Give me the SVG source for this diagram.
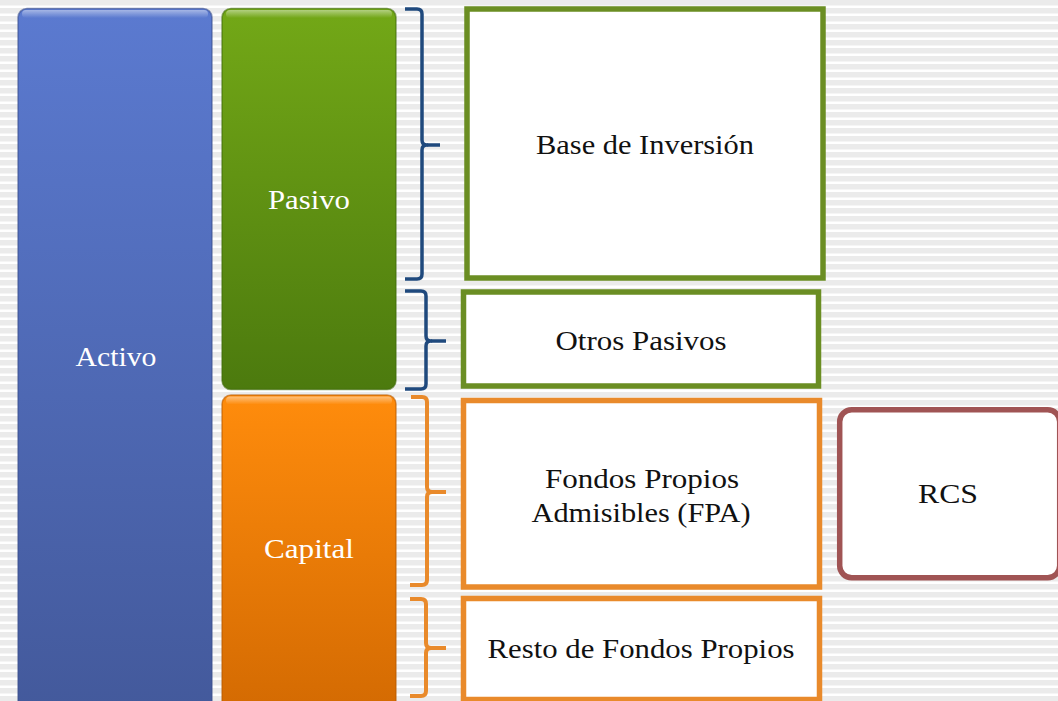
<svg xmlns="http://www.w3.org/2000/svg" width="1058" height="701" viewBox="0 0 1058 701">
<defs>
<pattern id="stripes" x="0" y="0" width="8" height="8" patternUnits="userSpaceOnUse">
<rect width="8" height="8" fill="#ffffff"/>
<rect y="0" width="8" height="5.5" fill="#ebebeb"/>
</pattern>
<linearGradient id="gBlue" x1="0" y1="0" x2="0" y2="1">
<stop offset="0" stop-color="#5b7ad0"/>
<stop offset="1" stop-color="#43599b"/>
</linearGradient>
<linearGradient id="gGreen" x1="0" y1="0" x2="0" y2="1">
<stop offset="0" stop-color="#73a817"/>
<stop offset="1" stop-color="#4c7a0e"/>
</linearGradient>
<linearGradient id="gOrange" x1="0" y1="0" x2="0" y2="1">
<stop offset="0" stop-color="#ff8c0c"/>
<stop offset="1" stop-color="#d36a02"/>
</linearGradient>
<linearGradient id="gloss" x1="0" y1="0" x2="0" y2="1">
<stop offset="0" stop-color="#ffffff" stop-opacity="0.45"/>
<stop offset="1" stop-color="#ffffff" stop-opacity="0"/>
</linearGradient>
</defs>
<style>
.lbl{font-family:"Liberation Serif","Times New Roman",serif;font-size:28px;text-anchor:middle}
.w{fill:#ffffff}
.k{fill:#111111}
.boxG{fill:#ffffff;stroke:#6b8e23;stroke-width:5.5}
.boxO{fill:#ffffff;stroke:#e98a2b;stroke-width:5.5}
.boxR{fill:#ffffff;stroke:#a05454;stroke-width:5.5}
.brN{fill:none;stroke:#1f497d;stroke-width:3.5;stroke-linejoin:round;stroke-linecap:butt}
.brO{fill:none;stroke:#e98a2b;stroke-width:4;stroke-linejoin:round;stroke-linecap:butt}
.edge{stroke-opacity:0.6;stroke-width:1.5}
</style>
<rect width="1058" height="701" fill="url(#stripes)"/>

<g id="activo">
<rect class="edge" x="18" y="8.5" width="194" height="710" rx="9" fill="url(#gBlue)" stroke="#3a4f8c"/>
<rect x="22" y="10" width="186" height="8" rx="4" fill="url(#gloss)"/>
<text class="lbl w" x="116" y="366" textLength="81" lengthAdjust="spacingAndGlyphs">Activo</text>
</g>

<g id="pasivo">
<rect class="edge" x="222" y="8.5" width="174" height="381" rx="9" fill="url(#gGreen)" stroke="#3f6a0a"/>
<rect x="226" y="10" width="166" height="8" rx="4" fill="url(#gloss)"/>
<text class="lbl w" x="309" y="209" textLength="82" lengthAdjust="spacingAndGlyphs">Pasivo</text>
</g>

<g id="capital">
<rect class="edge" x="222" y="395" width="174" height="320" rx="9" fill="url(#gOrange)" stroke="#b85a00"/>
<rect x="226" y="396.5" width="166" height="8" rx="4" fill="url(#gloss)"/>
<text class="lbl w" x="309" y="558" textLength="90" lengthAdjust="spacingAndGlyphs">Capital</text>
</g>

<g id="connectors">
<path class="brN" d="M405,9 H417 Q422,9 422,14 V140 Q422,145 427,145 Q422,145 422,150 V274 Q422,279 417,279 H405"/>
<path class="brN" d="M427,145 H440"/>
<path class="brN" d="M405,291 H421 Q426,291 426,296 V336 Q426,341 431,341 Q426,341 426,346 V384 Q426,389 421,389 H405"/>
<path class="brN" d="M431,341 H446"/>
<path class="brO" d="M411,397 H422 Q427,397 427,402 V487 Q427,492 432,492 Q427,492 427,497 V580 Q427,585 422,585 H410"/>
<path class="brO" d="M432,492 H446"/>
<path class="brO" d="M410,599 H421 Q426,599 426,604 V643 Q426,648 431,648 Q426,648 426,653 V691 Q426,696 421,696 H410"/>
<path class="brO" d="M431,648 H446"/>
</g>

<g id="base-inversion">
<rect class="boxG" x="467" y="9" width="356" height="269"/>
<text class="lbl k" x="645" y="154" textLength="218" lengthAdjust="spacingAndGlyphs">Base de Inversión</text>
</g>

<g id="otros-pasivos">
<rect class="boxG" x="463.5" y="292" width="355" height="94"/>
<text class="lbl k" x="641" y="350" textLength="171" lengthAdjust="spacingAndGlyphs">Otros Pasivos</text>
</g>

<g id="fpa">
<rect class="boxO" x="463.5" y="400.5" width="356" height="186.5"/>
<text class="lbl k" x="642" y="488" textLength="194" lengthAdjust="spacingAndGlyphs">Fondos Propios</text>
<text class="lbl k" x="641" y="522" textLength="219" lengthAdjust="spacingAndGlyphs">Admisibles (FPA)</text>
</g>

<g id="resto">
<rect class="boxO" x="463.5" y="598.5" width="356" height="101"/>
<text class="lbl k" x="641" y="658" textLength="307" lengthAdjust="spacingAndGlyphs">Resto de Fondos Propios</text>
</g>

<g id="rcs">
<rect class="boxR" x="839.7" y="409.7" width="220" height="168" rx="12"/>
<text class="lbl k" x="948" y="503" textLength="60" lengthAdjust="spacingAndGlyphs">RCS</text>
</g>
</svg>
